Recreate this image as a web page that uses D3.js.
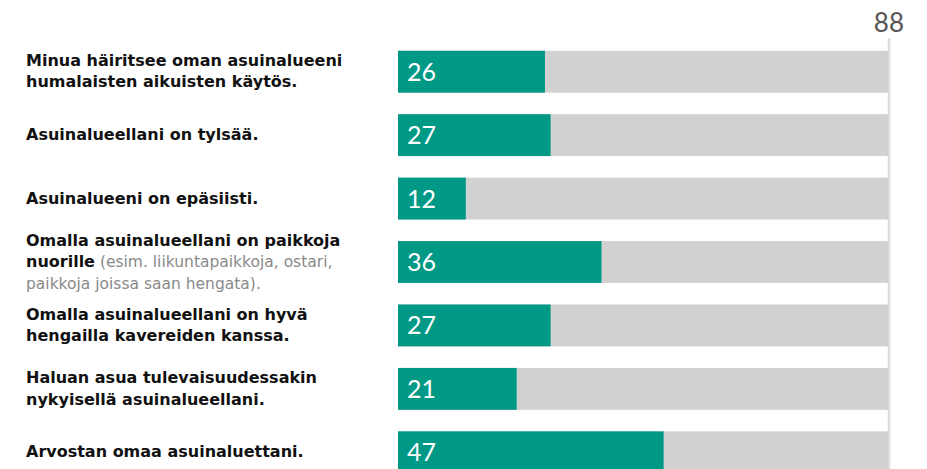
<!DOCTYPE html>
<html lang="fi">
<head>
    <meta charset="UTF-8">
    <title>Asuinalue</title>
    <script src="https://d3js.org/d3.v7.min.js"></script>
    <style>
        body { margin: 0; background: #fff; }
        svg { display: block; }
        .label { font-family: "DejaVu Sans", sans-serif; font-weight: 700; font-size: 16px; fill: #111; }
        .label .note { font-weight: 400; fill: #8a8a8a; font-size: 15.5px; }
        .value { font-family: "Lato", sans-serif; font-weight: 400; font-size: 25px; fill: #fff; }
        .total { font-family: "Lato", sans-serif; font-weight: 400; font-size: 26px; fill: #555; }
    </style>
</head>
<body>
<div id="chart"></div>
<script>
    // Bar labels, each line as [bold text, grey note]
    const labels = [
        [["Minua häiritsee oman asuinalueeni", ""], ["humalaisten aikuisten käytös.", ""]],
        [["Asuinalueellani on tylsää.", ""]],
        [["Asuinalueeni on epäsiisti.", ""]],
        [["Omalla asuinalueellani on paikkoja", ""], ["nuorille", " (esim. liikuntapaikkoja, ostari,"], ["", "paikkoja joissa saan hengata)."]],
        [["Omalla asuinalueellani on hyvä", ""], ["hengailla kavereiden kanssa.", ""]],
        [["Haluan asua tulevaisuudessakin", ""], ["nykyisellä asuinalueellani.", ""]],
        [["Arvostan omaa asuinaluettani.", ""]]
    ];
    const values = [26, 27, 12, 36, 27, 21, 47];
    const total = 88;
    const scaleMax = 86.7;

    const width = 927, height = 469;
    const svg = d3.select("#chart").append("svg")
        .attr("width", width)
        .attr("height", height);

    const x = d3.scaleLinear().domain([0, scaleMax]).range([398, 888]);
    const y = d3.scaleBand().domain(d3.range(values.length))
        .range([40, 484]).paddingInner(0.34).paddingOuter(0.17);

    // reference line at the right end
    svg.append("line")
        .attr("x1", 889).attr("x2", 889)
        .attr("y1", 38).attr("y2", height)
        .attr("stroke", "#dcdcdc").attr("stroke-width", 2.5);

    svg.append("text").attr("class", "total")
        .attr("x", 904).attr("y", 32)
        .attr("text-anchor", "end")
        .text(total);

    const rows = svg.selectAll(".row").data(values).join("g").attr("class", "row");

    rows.append("rect")
        .attr("x", x(0)).attr("y", (d, i) => y(i))
        .attr("width", x(scaleMax) - x(0)).attr("height", y.bandwidth())
        .attr("fill", "#d1d1d1");

    rows.append("rect")
        .attr("x", x(0)).attr("y", (d, i) => y(i))
        .attr("width", d => x(d) - x(0)).attr("height", y.bandwidth())
        .attr("fill", "#009985");

    rows.append("text").attr("class", "value")
        .attr("x", x(0) + 9)
        .attr("y", (d, i) => y(i) + y.bandwidth() / 2 + 9)
        .text(d => d);

    // category labels, centred on each bar
    const lineH = 21.5;
    labels.forEach((lines, i) => {
        const cy = y(i) + y.bandwidth() / 2;
        const y0 = cy - (lines.length - 1) * lineH / 2 + 5;
        const t = svg.append("text").attr("class", "label");
        lines.forEach((ln, j) => {
            const tsp = t.append("tspan").attr("x", 26).attr("y", y0 + j * lineH);
            if (ln[0]) tsp.text(ln[0]);
            if (ln[1]) {
                const note = ln[0] ? t.append("tspan") : tsp;
                note.attr("class", "note").text(ln[1]);
            }
        });
    });
</script>
</body>
</html>
